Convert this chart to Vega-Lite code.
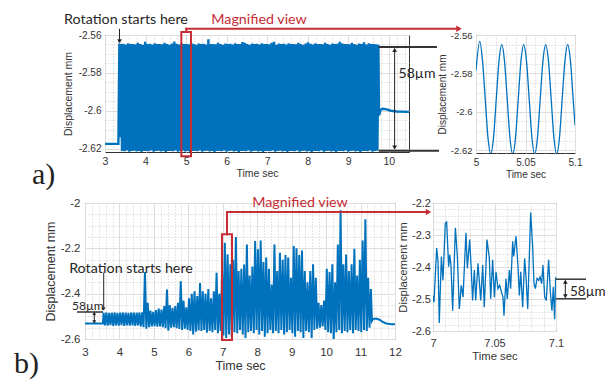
{
"$schema":"https://vega.github.io/schema/vega-lite/v6.json",
"padding":{"left":5,"top":5,"right":0,"bottom":0},
"background":"white",
"config":{
 "view":{"stroke":"#333333","strokeWidth":1},
 "axis":{"ticks":false,"domain":false,"grid":true,"gridWidth":1,"labelFont":"Liberation Sans","titleFont":"Liberation Sans","labelColor":"#333333","titleColor":"#333333","titleFontWeight":"normal","labelFlush":false,"labelOverlap":false}
},
"datasets":{
"a_main":[
{"t":3,"v":-2.6175},{"t":3.33,"v":-2.6175},{"t":3.355,"v":-2.5645},{"t":3.372,"v":-2.614},
{"t":3.39,"v":-2.5648},{"t":3.42,"v":-2.6212},{"t":3.45,"v":-2.5646},{"t":3.48,"v":-2.6214},{"t":3.51,"v":-2.565},{"t":3.54,"v":-2.621},{"t":3.57,"v":-2.5644},{"t":3.6,"v":-2.6217},{"t":3.63,"v":-2.5648},{"t":3.66,"v":-2.6213},{"t":3.69,"v":-2.5647},{"t":3.72,"v":-2.6211},{"t":3.75,"v":-2.5649},{"t":3.78,"v":-2.6215},{"t":3.81,"v":-2.5641},{"t":3.84,"v":-2.6212},{"t":3.87,"v":-2.5648},{"t":3.9,"v":-2.622},{"t":3.93,"v":-2.5651},{"t":3.96,"v":-2.6213},{"t":3.99,"v":-2.5636},{"t":4.02,"v":-2.6212},{"t":4.05,"v":-2.5648},{"t":4.08,"v":-2.6214},{"t":4.11,"v":-2.5646},{"t":4.14,"v":-2.621},{"t":4.17,"v":-2.565},{"t":4.2,"v":-2.6217},{"t":4.23,"v":-2.5644},{"t":4.26,"v":-2.6213},{"t":4.29,"v":-2.5648},{"t":4.32,"v":-2.6211},{"t":4.35,"v":-2.5647},{"t":4.38,"v":-2.6215},{"t":4.41,"v":-2.5649},{"t":4.44,"v":-2.6212},{"t":4.47,"v":-2.5641},{"t":4.5,"v":-2.622},{"t":4.53,"v":-2.5648},{"t":4.56,"v":-2.6213},{"t":4.59,"v":-2.5651},{"t":4.62,"v":-2.6212},{"t":4.65,"v":-2.5645},{"t":4.68,"v":-2.6214},{"t":4.71,"v":-2.5635},{"t":4.74,"v":-2.621},{"t":4.77,"v":-2.5646},{"t":4.8,"v":-2.6217},{"t":4.83,"v":-2.565},{"t":4.86,"v":-2.6213},{"t":4.89,"v":-2.5644},{"t":4.92,"v":-2.6211},{"t":4.95,"v":-2.5648},{"t":4.98,"v":-2.6215},{"t":5.01,"v":-2.5647},{"t":5.04,"v":-2.6212},{"t":5.07,"v":-2.5649},{"t":5.1,"v":-2.622},{"t":5.13,"v":-2.5641},{"t":5.16,"v":-2.6213},{"t":5.19,"v":-2.5648},{"t":5.22,"v":-2.6212},{"t":5.25,"v":-2.5651},{"t":5.28,"v":-2.6214},{"t":5.31,"v":-2.5645},{"t":5.34,"v":-2.621},{"t":5.37,"v":-2.5648},{"t":5.4,"v":-2.6217},{"t":5.43,"v":-2.5646},{"t":5.46,"v":-2.6213},{"t":5.49,"v":-2.565},{"t":5.52,"v":-2.6211},{"t":5.55,"v":-2.5623},{"t":5.58,"v":-2.6215},{"t":5.61,"v":-2.5648},{"t":5.64,"v":-2.6212},{"t":5.67,"v":-2.5647},{"t":5.7,"v":-2.622},{"t":5.73,"v":-2.5649},{"t":5.76,"v":-2.6213},{"t":5.79,"v":-2.5641},{"t":5.82,"v":-2.6212},{"t":5.85,"v":-2.5648},{"t":5.88,"v":-2.6214},{"t":5.91,"v":-2.5651},{"t":5.94,"v":-2.621},{"t":5.97,"v":-2.5645},{"t":6,"v":-2.6217},{"t":6.03,"v":-2.5648},{"t":6.06,"v":-2.6213},{"t":6.09,"v":-2.5646},{"t":6.12,"v":-2.6211},{"t":6.15,"v":-2.565},{"t":6.18,"v":-2.6215},{"t":6.21,"v":-2.5644},{"t":6.24,"v":-2.6212},{"t":6.27,"v":-2.5648},{"t":6.3,"v":-2.622},{"t":6.33,"v":-2.5647},{"t":6.36,"v":-2.6213},{"t":6.39,"v":-2.5637},{"t":6.42,"v":-2.6212},{"t":6.45,"v":-2.5641},{"t":6.48,"v":-2.6214},{"t":6.51,"v":-2.5648},{"t":6.54,"v":-2.621},{"t":6.57,"v":-2.5651},{"t":6.6,"v":-2.6217},{"t":6.63,"v":-2.5645},{"t":6.66,"v":-2.6213},{"t":6.69,"v":-2.5648},{"t":6.72,"v":-2.6211},{"t":6.75,"v":-2.5646},{"t":6.78,"v":-2.6215},{"t":6.81,"v":-2.565},{"t":6.84,"v":-2.6212},{"t":6.87,"v":-2.5644},{"t":6.9,"v":-2.622},{"t":6.93,"v":-2.5648},{"t":6.96,"v":-2.6213},{"t":6.99,"v":-2.5647},{"t":7.02,"v":-2.6212},{"t":7.05,"v":-2.5649},{"t":7.08,"v":-2.6214},{"t":7.11,"v":-2.5641},{"t":7.14,"v":-2.621},{"t":7.17,"v":-2.5636},{"t":7.2,"v":-2.6217},{"t":7.23,"v":-2.5651},{"t":7.26,"v":-2.6213},{"t":7.29,"v":-2.5645},{"t":7.32,"v":-2.6211},{"t":7.35,"v":-2.5648},{"t":7.38,"v":-2.6215},{"t":7.41,"v":-2.5646},{"t":7.44,"v":-2.6212},{"t":7.47,"v":-2.565},{"t":7.5,"v":-2.622},{"t":7.53,"v":-2.5644},{"t":7.56,"v":-2.6213},{"t":7.59,"v":-2.5648},{"t":7.62,"v":-2.6212},{"t":7.65,"v":-2.5647},{"t":7.68,"v":-2.6214},{"t":7.71,"v":-2.5649},{"t":7.74,"v":-2.621},{"t":7.77,"v":-2.5641},{"t":7.8,"v":-2.6217},{"t":7.83,"v":-2.5648},{"t":7.86,"v":-2.6213},{"t":7.89,"v":-2.5651},{"t":7.92,"v":-2.6211},{"t":7.95,"v":-2.5645},{"t":7.98,"v":-2.6215},{"t":8.01,"v":-2.5638},{"t":8.04,"v":-2.6212},{"t":8.07,"v":-2.5646},{"t":8.1,"v":-2.622},{"t":8.13,"v":-2.565},{"t":8.16,"v":-2.6213},{"t":8.19,"v":-2.5644},{"t":8.22,"v":-2.6212},{"t":8.25,"v":-2.5648},{"t":8.28,"v":-2.6214},{"t":8.31,"v":-2.5647},{"t":8.34,"v":-2.621},{"t":8.37,"v":-2.5649},{"t":8.4,"v":-2.6217},{"t":8.43,"v":-2.5641},{"t":8.46,"v":-2.6213},{"t":8.49,"v":-2.5648},{"t":8.52,"v":-2.6211},{"t":8.55,"v":-2.5651},{"t":8.58,"v":-2.6215},{"t":8.61,"v":-2.5645},{"t":8.64,"v":-2.6212},{"t":8.67,"v":-2.5648},{"t":8.7,"v":-2.622},{"t":8.73,"v":-2.5646},{"t":8.76,"v":-2.6213},{"t":8.79,"v":-2.5636},{"t":8.82,"v":-2.6212},{"t":8.85,"v":-2.5644},{"t":8.88,"v":-2.6214},{"t":8.91,"v":-2.5648},{"t":8.94,"v":-2.621},{"t":8.97,"v":-2.5647},{"t":9,"v":-2.6217},{"t":9.03,"v":-2.5649},{"t":9.06,"v":-2.6213},{"t":9.09,"v":-2.5641},{"t":9.12,"v":-2.6211},{"t":9.15,"v":-2.5648},{"t":9.18,"v":-2.6215},{"t":9.21,"v":-2.5651},{"t":9.24,"v":-2.6212},{"t":9.27,"v":-2.5645},{"t":9.3,"v":-2.622},{"t":9.33,"v":-2.5648},{"t":9.36,"v":-2.6213},{"t":9.39,"v":-2.5639},{"t":9.42,"v":-2.6212},{"t":9.45,"v":-2.565},{"t":9.48,"v":-2.6214},{"t":9.51,"v":-2.5644},{"t":9.54,"v":-2.621},{"t":9.57,"v":-2.5648},{"t":9.6,"v":-2.6217},{"t":9.63,"v":-2.5647},{"t":9.66,"v":-2.6213},{"t":9.69,"v":-2.5649},{"t":9.72,"v":-2.6211},
{"t":9.745,"v":-2.5652},{"t":9.76,"v":-2.6025},{"t":9.8,"v":-2.5995},{"t":9.85,"v":-2.599},{"t":9.95,"v":-2.5993},{"t":10.05,"v":-2.6},{"t":10.2,"v":-2.6004},{"t":10.5,"v":-2.6006}
],
"a_mag":[
{"t":5,"v":-2.5784},{"t":5.0038,"v":-2.5633},{"t":5.00658,"v":-2.5735},{"t":5.00935,"v":-2.5935},{"t":5.01213,"v":-2.6137},{"t":5.0149,"v":-2.622},{"t":5.01768,"v":-2.6137},{"t":5.02045,"v":-2.5935},{"t":5.02323,"v":-2.5735},{"t":5.026,"v":-2.565},{"t":5.02878,"v":-2.5735},{"t":5.03155,"v":-2.5935},{"t":5.03433,"v":-2.6137},{"t":5.0371,"v":-2.622},{"t":5.03988,"v":-2.6137},{"t":5.04265,"v":-2.5935},{"t":5.04543,"v":-2.5735},{"t":5.0482,"v":-2.565},{"t":5.05098,"v":-2.5735},{"t":5.05375,"v":-2.5935},{"t":5.05653,"v":-2.6137},{"t":5.0593,"v":-2.622},{"t":5.06208,"v":-2.6137},{"t":5.06485,"v":-2.5935},{"t":5.06763,"v":-2.5735},{"t":5.0704,"v":-2.565},{"t":5.07318,"v":-2.5735},{"t":5.07595,"v":-2.5935},{"t":5.07873,"v":-2.6137},{"t":5.0815,"v":-2.622},{"t":5.08428,"v":-2.6137},{"t":5.08705,"v":-2.5935},{"t":5.08983,"v":-2.5735},{"t":5.0926,"v":-2.565},{"t":5.09538,"v":-2.5735},{"t":5.09815,"v":-2.5935},{"t":5.1,"v":-2.607}
],
"b_main":[
{"t":3,"v":-2.532},{"t":3.52,"v":-2.532},{"t":3.54,"v":-2.484},{"t":3.58,"v":-2.54},{"t":3.62,"v":-2.483},{"t":3.66,"v":-2.541},{"t":3.7,"v":-2.485},{"t":3.74,"v":-2.539},{"t":3.78,"v":-2.484},{"t":3.82,"v":-2.542},{"t":3.86,"v":-2.483},{"t":3.9,"v":-2.54},{"t":3.94,"v":-2.485},{"t":3.98,"v":-2.541},{"t":4.02,"v":-2.484},{"t":4.06,"v":-2.539},{"t":4.1,"v":-2.483},{"t":4.14,"v":-2.542},{"t":4.18,"v":-2.484},{"t":4.22,"v":-2.54},{"t":4.26,"v":-2.485},{"t":4.3,"v":-2.541},{"t":4.34,"v":-2.483},{"t":4.38,"v":-2.54},{"t":4.42,"v":-2.484},{"t":4.46,"v":-2.542},{"t":4.5,"v":-2.484},{"t":4.54,"v":-2.54},{"t":4.58,"v":-2.483},{"t":4.62,"v":-2.544},{"t":4.66,"v":-2.482},{"t":4.7,"v":-2.548},{"t":4.74,"v":-2.304},{"t":4.78,"v":-2.555},{"t":4.82,"v":-2.44},{"t":4.86,"v":-2.548},{"t":4.9,"v":-2.475},{"t":4.94,"v":-2.545},{"t":4.98,"v":-2.48},{"t":5.02,"v":-2.543},{"t":5.06,"v":-2.472},{"t":5.1,"v":-2.546},{"t":5.14,"v":-2.466},{"t":5.18,"v":-2.545},{"t":5.22,"v":-2.47},{"t":5.26,"v":-2.548},{"t":5.3,"v":-2.455},{"t":5.34,"v":-2.552},{"t":5.38,"v":-2.382},{"t":5.42,"v":-2.563},{"t":5.46,"v":-2.45},{"t":5.5,"v":-2.55},{"t":5.54,"v":-2.462},{"t":5.58,"v":-2.548},{"t":5.62,"v":-2.455},{"t":5.66,"v":-2.552},{"t":5.7,"v":-2.44},{"t":5.74,"v":-2.556},{"t":5.78,"v":-2.345},{"t":5.82,"v":-2.56},{"t":5.86,"v":-2.43},{"t":5.9,"v":-2.555},{"t":5.94,"v":-2.46},{"t":5.98,"v":-2.56},{"t":6.02,"v":-2.42},{"t":6.06,"v":-2.565},{"t":6.1,"v":-2.4},{"t":6.14,"v":-2.58},{"t":6.18,"v":-2.389},{"t":6.22,"v":-2.568},{"t":6.26,"v":-2.41},{"t":6.3,"v":-2.562},{"t":6.34,"v":-2.353},{"t":6.38,"v":-2.565},{"t":6.42,"v":-2.39},{"t":6.46,"v":-2.56},{"t":6.5,"v":-2.4},{"t":6.54,"v":-2.572},{"t":6.58,"v":-2.38},{"t":6.62,"v":-2.565},{"t":6.66,"v":-2.42},{"t":6.7,"v":-2.57},{"t":6.74,"v":-2.39},{"t":6.78,"v":-2.56},{"t":6.82,"v":-2.308},{"t":6.86,"v":-2.575},{"t":6.9,"v":-2.4},{"t":6.94,"v":-2.565},{"t":6.98,"v":-2.3},{"t":7.02,"v":-2.585},{"t":7.06,"v":-2.175},{"t":7.1,"v":-2.595},{"t":7.14,"v":-2.226},{"t":7.18,"v":-2.58},{"t":7.22,"v":-2.27},{"t":7.26,"v":-2.59},{"t":7.3,"v":-2.25},{"t":7.34,"v":-2.57},{"t":7.38,"v":-2.15},{"t":7.42,"v":-2.575},{"t":7.46,"v":-2.3},{"t":7.5,"v":-2.56},{"t":7.54,"v":-2.29},{"t":7.58,"v":-2.58},{"t":7.62,"v":-2.271},{"t":7.66,"v":-2.596},{"t":7.7,"v":-2.183},{"t":7.74,"v":-2.57},{"t":7.78,"v":-2.32},{"t":7.82,"v":-2.565},{"t":7.86,"v":-2.28},{"t":7.9,"v":-2.575},{"t":7.94,"v":-2.168},{"t":7.98,"v":-2.56},{"t":8.02,"v":-2.204},{"t":8.06,"v":-2.58},{"t":8.1,"v":-2.165},{"t":8.14,"v":-2.565},{"t":8.18,"v":-2.26},{"t":8.22,"v":-2.59},{"t":8.26,"v":-2.24},{"t":8.3,"v":-2.575},{"t":8.34,"v":-2.29},{"t":8.38,"v":-2.56},{"t":8.42,"v":-2.36},{"t":8.46,"v":-2.575},{"t":8.5,"v":-2.183},{"t":8.54,"v":-2.565},{"t":8.58,"v":-2.3},{"t":8.62,"v":-2.575},{"t":8.66,"v":-2.22},{"t":8.7,"v":-2.56},{"t":8.74,"v":-2.25},{"t":8.78,"v":-2.58},{"t":8.82,"v":-2.23},{"t":8.86,"v":-2.57},{"t":8.9,"v":-2.24},{"t":8.94,"v":-2.56},{"t":8.98,"v":-2.33},{"t":9.02,"v":-2.575},{"t":9.06,"v":-2.19},{"t":9.1,"v":-2.59},{"t":9.14,"v":-2.2},{"t":9.18,"v":-2.565},{"t":9.22,"v":-2.23},{"t":9.26,"v":-2.57},{"t":9.3,"v":-2.21},{"t":9.34,"v":-2.596},{"t":9.38,"v":-2.3},{"t":9.42,"v":-2.565},{"t":9.46,"v":-2.35},{"t":9.5,"v":-2.57},{"t":9.54,"v":-2.3},{"t":9.58,"v":-2.596},{"t":9.62,"v":-2.27},{"t":9.66,"v":-2.56},{"t":9.7,"v":-2.33},{"t":9.74,"v":-2.555},{"t":9.78,"v":-2.44},{"t":9.82,"v":-2.55},{"t":9.86,"v":-2.45},{"t":9.9,"v":-2.545},{"t":9.94,"v":-2.43},{"t":9.98,"v":-2.56},{"t":10.02,"v":-2.29},{"t":10.06,"v":-2.57},{"t":10.1,"v":-2.305},{"t":10.14,"v":-2.575},{"t":10.18,"v":-2.27},{"t":10.22,"v":-2.61},{"t":10.26,"v":-2.35},{"t":10.3,"v":-2.57},{"t":10.34,"v":-2.183},{"t":10.38,"v":-2.56},{"t":10.42,"v":-2.032},{"t":10.46,"v":-2.575},{"t":10.5,"v":-2.27},{"t":10.54,"v":-2.565},{"t":10.58,"v":-2.227},{"t":10.62,"v":-2.57},{"t":10.66,"v":-2.3},{"t":10.7,"v":-2.56},{"t":10.74,"v":-2.27},{"t":10.78,"v":-2.575},{"t":10.82,"v":-2.202},{"t":10.86,"v":-2.56},{"t":10.9,"v":-2.32},{"t":10.94,"v":-2.565},{"t":10.98,"v":-2.25},{"t":11.02,"v":-2.57},{"t":11.06,"v":-2.165},{"t":11.1,"v":-2.56},{"t":11.14,"v":-2.072},{"t":11.18,"v":-2.565},{"t":11.22,"v":-2.33},{"t":11.26,"v":-2.55},{"t":11.3,"v":-2.38},{"t":11.33,"v":-2.52},{"t":11.36,"v":-2.512},{"t":11.45,"v":-2.51},{"t":11.55,"v":-2.515},{"t":11.65,"v":-2.525},{"t":11.75,"v":-2.532},{"t":11.9,"v":-2.535},{"t":12,"v":-2.535}
],
"b_mag":[
{"t":7,"v":-2.49},{"t":7.0008,"v":-2.51},{"t":7.003,"v":-2.3407},{"t":7.0041,"v":-2.3831},{"t":7.0051,"v":-2.575},{"t":7.0068,"v":-2.3672},{"t":7.0081,"v":-2.4413},{"t":7.01,"v":-2.2635},{"t":7.0111,"v":-2.2593},{"t":7.0127,"v":-2.3989},{"t":7.0136,"v":-2.3619},{"t":7.0146,"v":-2.3937},{"t":7.016,"v":-2.5365},{"t":7.0182,"v":-2.2772},{"t":7.0198,"v":-2.3672},{"t":7.0214,"v":-2.5312},{"t":7.023,"v":-2.4571},{"t":7.0244,"v":-2.4942},{"t":7.0268,"v":-2.2931},{"t":7.0279,"v":-2.4042},{"t":7.0298,"v":-2.3143},{"t":7.0312,"v":-2.4148},{"t":7.0322,"v":-2.5048},{"t":7.0336,"v":-2.4095},{"t":7.0347,"v":-2.5048},{"t":7.0366,"v":-2.3884},{"t":7.0388,"v":-2.5048},{"t":7.0404,"v":-2.3937},{"t":7.0417,"v":-2.5259},{"t":7.0439,"v":-2.3143},{"t":7.0458,"v":-2.3725},{"t":7.0469,"v":-2.4995},{"t":7.0485,"v":-2.3778},{"t":7.0499,"v":-2.4942},{"t":7.0512,"v":-2.4148},{"t":7.0528,"v":-2.4677},{"t":7.0542,"v":-2.4571},{"t":7.0553,"v":-2.473},{"t":7.0569,"v":-2.4942},{"t":7.0577,"v":-2.5524},{"t":7.0593,"v":-2.436},{"t":7.0604,"v":-2.4995},{"t":7.0621,"v":-2.4095},{"t":7.0631,"v":-2.4677},{"t":7.0648,"v":-2.3196},{"t":7.0656,"v":-2.3672},{"t":7.0675,"v":-2.3037},{"t":7.0691,"v":-2.3989},{"t":7.0702,"v":-2.4889},{"t":7.0713,"v":-2.4148},{"t":7.0729,"v":-2.5259},{"t":7.0745,"v":-2.3725},{"t":7.0756,"v":-2.4307},{"t":7.077,"v":-2.5312},{"t":7.0794,"v":-2.2296},{"t":7.081,"v":-2.3354},{"t":7.0821,"v":-2.4519},{"t":7.0832,"v":-2.4677},{"t":7.0846,"v":-2.436},{"t":7.0859,"v":-2.4413},{"t":7.087,"v":-2.4307},{"t":7.0883,"v":-2.4519},{"t":7.0894,"v":-2.3937},{"t":7.0908,"v":-2.4942},{"t":7.0921,"v":-2.5048},{"t":7.094,"v":-2.3778},{"t":7.0954,"v":-2.4783},{"t":7.0967,"v":-2.5365},{"t":7.0978,"v":-2.4624},{"t":7.0989,"v":-2.563},{"t":7.0997,"v":-2.436},{"t":7.1,"v":-2.4307}
]
},
"vconcat":[
{"hconcat":[
 {"width":20,"height":117,"data":{"values":[]},"mark":"point","encoding":{},"view":{"stroke":null}},
 {"width":304,"height":117,"resolve":{"axis":{"x":"independent","y":"independent"}},"layer":[
  {"data":{"name":"a_main"},"mark":{"type":"line","color":"#0072BD","strokeWidth":2.4,"clip":true},
   "encoding":{
    "x":{"field":"t","type":"quantitative","scale":{"domain":[3,10.5],"nice":false,"zero":false},
     "axis":{"title":"Time sec","grid":true,"values":[3,3.2,3.4,3.6,3.8,4,4.2,4.4,4.6,4.8,5,5.2,5.4,5.6,5.8,6,6.2,6.4,6.6,6.8,7,7.2,7.4,7.6,7.8,8,8.2,8.4,8.6,8.8,9,9.2,9.4,9.6,9.8,10,10.2,10.4],
      "labelExpr":"datum.value % 1 == 0 ? '' + datum.value : ''",
      "gridDash":{"condition":{"test":"datum.value % 1 == 0","value":[]},"value":[1,2]},
      "gridColor":{"condition":{"test":"datum.value % 1 == 0","value":"#dedede"},"value":"#cccccc"},
      "labelFontSize":10.5,"titleFontSize":10.5,"labelPadding":4,"titlePadding":2}},
    "y":{"field":"v","type":"quantitative","scale":{"domain":[-2.6218,-2.56],"nice":false,"zero":false},
     "axis":{"title":"Displacement mm","grid":true,"values":[-2.62,-2.615,-2.61,-2.605,-2.6,-2.595,-2.59,-2.585,-2.58,-2.575,-2.57,-2.565,-2.56],
      "labelExpr":"abs(datum.value*50 - round(datum.value*50)) < 0.000001 ? '' + datum.value : ''",
      "gridDash":{"condition":{"test":"abs(datum.value*50 - round(datum.value*50)) < 0.000001","value":[]},"value":[1,2]},
      "gridColor":{"condition":{"test":"abs(datum.value*50 - round(datum.value*50)) < 0.000001","value":"#dedede"},"value":"#cccccc"},
      "labelFontSize":10,"titleFontSize":10.5,"labelPadding":4,"titlePadding":5}}}},
  {"data":{"values":[{"t":0.5822,"v":-2.54521},{"t":0.5822,"v":-2.64451}]},"mark":{"type":"point","filled":true,"strokeWidth":0,"opacity":0,"size":1,"clip":false},
   "encoding":{"x":{"field":"t","type":"quantitative","axis":null},"y":{"field":"v","type":"quantitative","axis":null}}},
  {"data":{"values":[{"t":4.883,"t2":5.122,"v":-2.5584,"v2":-2.624}]},"mark":{"type":"rect","filled":false,"color":"#C62D35","stroke":"#C62D35","strokeWidth":2,"clip":false},
   "encoding":{"x":{"field":"t","type":"quantitative","axis":null},"x2":{"field":"t2"},"y":{"field":"v","type":"quantitative","axis":null},"y2":{"field":"v2"}}},
  {"data":{"values":[{"t":5.006,"v":-2.5584,"t2":5.006,"v2":-2.5567},{"t":5.006,"v":-2.5567,"t2":11.7,"v2":-2.5567}]},"mark":{"type":"rule","color":"#C62D35","strokeWidth":2,"strokeCap":"square","clip":false},
   "encoding":{"x":{"field":"t","type":"quantitative","axis":null},"x2":{"field":"t2"},"y":{"field":"v","type":"quantitative","axis":null},"y2":{"field":"v2"}}},
  {"data":{"values":[{"t":11.734,"v":-2.5567,"dir":"right"}]},"mark":{"type":"point","filled":true,"color":"#C62D35","size":40,"opacity":1,"clip":false},
   "encoding":{"x":{"field":"t","type":"quantitative","axis":null},"y":{"field":"v","type":"quantitative","axis":null},"shape":{"field":"dir","type":"nominal","scale":{"domain":["down","up","right"],"range":["triangle-down","triangle-up","triangle-right"]},"legend":null}}},
  {"data":{"values":[{"t":3.358,"v":-2.5567,"t2":3.358,"v2":-2.5625},{"t":10.145,"v":-2.5672,"t2":10.145,"v2":-2.6202}]},"mark":{"type":"rule","color":"#222222","strokeWidth":1,"clip":false},
   "encoding":{"x":{"field":"t","type":"quantitative","axis":null},"x2":{"field":"t2"},"y":{"field":"v","type":"quantitative","axis":null},"y2":{"field":"v2"}}},
  {"data":{"values":[{"t":9.753,"v":-2.5663,"t2":11.19,"v2":-2.5663},{"t":9.753,"v":-2.6211,"t2":11.24,"v2":-2.6211}]},"mark":{"type":"rule","color":"#333333","strokeWidth":2,"clip":false},
   "encoding":{"x":{"field":"t","type":"quantitative","axis":null},"x2":{"field":"t2"},"y":{"field":"v","type":"quantitative","axis":null},"y2":{"field":"v2"}}},
  {"data":{"values":[{"t":3.358,"v":-2.5633,"dir":"down"},{"t":10.145,"v":-2.5679,"dir":"up"},{"t":10.145,"v":-2.6194,"dir":"down"}]},"mark":{"type":"point","filled":true,"color":"#222222","size":22,"opacity":1,"clip":false},
   "encoding":{"x":{"field":"t","type":"quantitative","axis":null},"y":{"field":"v","type":"quantitative","axis":null},"shape":{"field":"dir","type":"nominal","scale":{"domain":["down","up","right"],"range":["triangle-down","triangle-up","triangle-right"]},"legend":null}}},
  {"data":{"values":[{"t":3.518,"v":-2.55233,"label":"Rotation starts here"}]},"mark":{"type":"text","font":"Lato","fontSize":14.3,"color":"#262626","align":"center","baseline":"middle","clip":false},
   "encoding":{"x":{"field":"t","type":"quantitative","axis":null},"y":{"field":"v","type":"quantitative","axis":null},"text":{"field":"label"}}},
  {"data":{"values":[{"t":6.8,"v":-2.55222,"label":"Magnified view"}]},"mark":{"type":"text","font":"Lato","fontSize":14.3,"color":"#C62D35","align":"center","baseline":"middle","clip":false},
   "encoding":{"x":{"field":"t","type":"quantitative","axis":null},"y":{"field":"v","type":"quantitative","axis":null},"text":{"field":"label"}}},
  {"data":{"values":[{"t":10.244,"v":-2.5806,"label":"58µm"}]},"mark":{"type":"text","font":"Lato","fontSize":14,"color":"#262626","align":"left","baseline":"middle","clip":false},
   "encoding":{"x":{"field":"t","type":"quantitative","axis":null},"y":{"field":"v","type":"quantitative","axis":null},"text":{"field":"label"}}},
  {"data":{"values":[{"t":1.199,"v":-2.6341,"label":"a)"}]},"mark":{"type":"text","font":"Liberation Serif","fontSize":30,"color":"#222222","align":"left","baseline":"middle","clip":false},
   "encoding":{"x":{"field":"t","type":"quantitative","axis":null},"y":{"field":"v","type":"quantitative","axis":null},"text":{"field":"label"}}}
 ]},
 {"width":67,"height":117,"data":{"values":[]},"mark":"point","encoding":{},"view":{"stroke":null}},
 {"width":99,"height":118,"layer":[
  {"data":{"name":"a_mag"},"mark":{"type":"line","color":"#0072BD","strokeWidth":1.3,"interpolate":"monotone","clip":true},
   "encoding":{
    "x":{"field":"t","type":"quantitative","scale":{"domain":[5,5.1],"nice":false,"zero":false},
     "axis":{"title":"Time sec","values":[5,5.01,5.02,5.03,5.04,5.05,5.06,5.07,5.08,5.09,5.1],
      "labelExpr":"abs(datum.value*20 - round(datum.value*20)) < 0.000001 ? '' + datum.value : ''",
      "gridDash":{"condition":{"test":"abs(datum.value*20 - round(datum.value*20)) < 0.000001","value":[]},"value":[1,2]},
      "gridColor":{"condition":{"test":"abs(datum.value*20 - round(datum.value*20)) < 0.000001","value":"#dedede"},"value":"#cccccc"},
      "labelFontSize":10,"titleFontSize":10,"labelPadding":4.5,"titlePadding":2}},
    "y":{"field":"v","type":"quantitative","scale":{"domain":[-2.6215,-2.56],"nice":false,"zero":false},
     "axis":{"title":"Displacement mm","values":[-2.62,-2.615,-2.61,-2.605,-2.6,-2.595,-2.59,-2.585,-2.58,-2.575,-2.57,-2.565,-2.56],
      "labelExpr":"abs(datum.value*50 - round(datum.value*50)) < 0.000001 ? '' + datum.value : ''",
      "gridDash":{"condition":{"test":"abs(datum.value*50 - round(datum.value*50)) < 0.000001","value":[]},"value":[1,2]},
      "gridColor":{"condition":{"test":"abs(datum.value*50 - round(datum.value*50)) < 0.000001","value":"#dedede"},"value":"#cccccc"},
      "labelFontSize":9.5,"titleFontSize":10,"labelPadding":4,"titlePadding":3}}}}
 ]}
],"spacing":0,"bounds":"flush"},
{"hconcat":[
 {"width":310,"height":136,"resolve":{"axis":{"x":"independent","y":"independent"}},"layer":[
  {"data":{"name":"b_main"},"mark":{"type":"line","color":"#0072BD","strokeWidth":2,"clip":true},
   "encoding":{
    "x":{"field":"t","type":"quantitative","scale":{"domain":[3,12],"nice":false,"zero":false},
     "axis":{"title":"Time sec","grid":true,"values":[3,3.2,3.4,3.6,3.8,4,4.2,4.4,4.6,4.8,5,5.2,5.4,5.6,5.8,6,6.2,6.4,6.6,6.8,7,7.2,7.4,7.6,7.8,8,8.2,8.4,8.6,8.8,9,9.2,9.4,9.6,9.8,10,10.2,10.4,10.6,10.8,11,11.2,11.4,11.6,11.8,12],
      "labelExpr":"datum.value % 1 == 0 ? '' + datum.value : ''",
      "gridDash":{"condition":{"test":"datum.value % 1 == 0","value":[]},"value":[1,2]},
      "gridColor":{"condition":{"test":"datum.value % 1 == 0","value":"#dedede"},"value":"#cccccc"},
      "labelFontSize":11.5,"titleFontSize":12.5,"labelPadding":7,"titlePadding":2}},
    "y":{"field":"v","type":"quantitative","scale":{"domain":[-2.6,-2],"nice":false,"zero":false},
     "axis":{"title":"Displacement mm","grid":true,"values":[-2.6,-2.55,-2.5,-2.45,-2.4,-2.35,-2.3,-2.25,-2.2,-2.15,-2.1,-2.05,-2],
      "labelExpr":"abs(datum.value*5 - round(datum.value*5)) < 0.000001 ? '' + datum.value : ''",
      "gridDash":{"condition":{"test":"abs(datum.value*5 - round(datum.value*5)) < 0.000001","value":[]},"value":[1,2]},
      "gridColor":{"condition":{"test":"abs(datum.value*5 - round(datum.value*5)) < 0.000001","value":"#dedede"},"value":"#cccccc"},
      "labelFontSize":11.5,"titleFontSize":12.5,"labelPadding":5,"titlePadding":3}}}},
  {"data":{"values":[{"t":0.7355,"v":-1.9603}]},"mark":{"type":"point","filled":true,"strokeWidth":0,"opacity":0,"size":1,"clip":false},
   "encoding":{"x":{"field":"t","type":"quantitative","axis":null},"y":{"field":"v","type":"quantitative","axis":null}}},
  {"data":{"values":[{"t":6.977,"t2":7.268,"v":-2.1381,"v2":-2.6044}]},"mark":{"type":"rect","filled":false,"color":"#C62D35","stroke":"#C62D35","strokeWidth":2,"clip":false},
   "encoding":{"x":{"field":"t","type":"quantitative","axis":null},"x2":{"field":"t2"},"y":{"field":"v","type":"quantitative","axis":null},"y2":{"field":"v2"}}},
  {"data":{"values":[{"t":7.1226,"v":-2.1381,"t2":7.1226,"v2":-2.0397},{"t":7.1226,"v":-2.0397,"t2":12.93,"v2":-2.0397}]},"mark":{"type":"rule","color":"#C62D35","strokeWidth":2,"strokeCap":"square","clip":false},
   "encoding":{"x":{"field":"t","type":"quantitative","axis":null},"x2":{"field":"t2"},"y":{"field":"v","type":"quantitative","axis":null},"y2":{"field":"v2"}}},
  {"data":{"values":[{"t":12.975,"v":-2.0397,"dir":"right"}]},"mark":{"type":"point","filled":true,"color":"#C62D35","size":40,"opacity":1,"clip":false},
   "encoding":{"x":{"field":"t","type":"quantitative","axis":null},"y":{"field":"v","type":"quantitative","axis":null},"shape":{"field":"dir","type":"nominal","scale":{"domain":["down","up","right"],"range":["triangle-down","triangle-up","triangle-right"]},"legend":null}}},
  {"data":{"values":[{"t":3.543,"v":-2.3075,"t2":3.543,"v2":-2.46},{"t":3.27,"v":-2.4845,"t2":3.27,"v2":-2.528}]},"mark":{"type":"rule","color":"#222222","strokeWidth":1,"clip":false},
   "encoding":{"x":{"field":"t","type":"quantitative","axis":null},"x2":{"field":"t2"},"y":{"field":"v","type":"quantitative","axis":null},"y2":{"field":"v2"}}},
  {"data":{"values":[{"t":2.768,"v":-2.4809,"t2":3.523,"v2":-2.4809}]},"mark":{"type":"rule","color":"#333333","strokeWidth":1.5,"clip":false},
   "encoding":{"x":{"field":"t","type":"quantitative","axis":null},"x2":{"field":"t2"},"y":{"field":"v","type":"quantitative","axis":null},"y2":{"field":"v2"}}},
  {"data":{"values":[{"t":3.543,"v":-2.4676,"dir":"down"},{"t":3.27,"v":-2.487,"dir":"up"},{"t":3.27,"v":-2.524,"dir":"down"}]},"mark":{"type":"point","filled":true,"color":"#222222","size":14,"opacity":1,"clip":false},
   "encoding":{"x":{"field":"t","type":"quantitative","axis":null},"y":{"field":"v","type":"quantitative","axis":null},"shape":{"field":"dir","type":"nominal","scale":{"domain":["down","up","right"],"range":["triangle-down","triangle-up","triangle-right"]},"legend":null}}},
  {"data":{"values":[{"t":4.3355,"v":-2.2912,"label":"Rotation starts here"}]},"mark":{"type":"text","font":"Lato","fontSize":14.3,"color":"#262626","align":"center","baseline":"middle","clip":false},
   "encoding":{"x":{"field":"t","type":"quantitative","axis":null},"y":{"field":"v","type":"quantitative","axis":null},"text":{"field":"label"}}},
  {"data":{"values":[{"t":9.242,"v":-1.9987,"label":"Magnified view"}]},"mark":{"type":"text","font":"Lato","fontSize":14.3,"color":"#C62D35","align":"center","baseline":"middle","clip":false},
   "encoding":{"x":{"field":"t","type":"quantitative","axis":null},"y":{"field":"v","type":"quantitative","axis":null},"text":{"field":"label"}}},
  {"data":{"values":[{"t":3.0813,"v":-2.4544,"label":"58µm"}]},"mark":{"type":"text","font":"Lato","fontSize":12,"color":"#262626","align":"center","baseline":"middle","clip":false},
   "encoding":{"x":{"field":"t","type":"quantitative","axis":null},"y":{"field":"v","type":"quantitative","axis":null},"text":{"field":"label"}}},
  {"data":{"values":[{"t":0.9387,"v":-2.7103,"label":"b)"}]},"mark":{"type":"text","font":"Liberation Serif","fontSize":30,"color":"#222222","align":"left","baseline":"middle","clip":false},
   "encoding":{"x":{"field":"t","type":"quantitative","axis":null},"y":{"field":"v","type":"quantitative","axis":null},"text":{"field":"label"}}}
 ]},
 {"width":123,"height":128,"resolve":{"axis":{"x":"independent","y":"independent"}},"layer":[
  {"data":{"name":"b_mag"},"mark":{"type":"line","color":"#0072BD","strokeWidth":1.3,"clip":true},
   "encoding":{
    "x":{"field":"t","type":"quantitative","scale":{"domain":[7,7.1],"nice":false,"zero":false},
     "axis":{"title":"Time sec","grid":true,"values":[7,7.01,7.02,7.03,7.04,7.05,7.06,7.07,7.08,7.09,7.1],
      "labelExpr":"abs(datum.value*20 - round(datum.value*20)) < 0.000001 ? '' + datum.value : ''",
      "gridDash":{"condition":{"test":"abs(datum.value*20 - round(datum.value*20)) < 0.000001","value":[]},"value":[1,2]},
      "gridColor":{"condition":{"test":"abs(datum.value*20 - round(datum.value*20)) < 0.000001","value":"#dedede"},"value":"#cccccc"},
      "labelFontSize":11,"titleFontSize":11.3,"labelPadding":6,"titlePadding":2}},
    "y":{"field":"v","type":"quantitative","scale":{"domain":[-2.6,-2.2],"nice":false,"zero":false},
     "axis":{"title":"Displacement mm","grid":true,"values":[-2.6,-2.58,-2.56,-2.54,-2.52,-2.5,-2.48,-2.46,-2.44,-2.42,-2.4,-2.38,-2.36,-2.34,-2.32,-2.3,-2.28,-2.26,-2.24,-2.22,-2.2],
      "labelExpr":"abs(datum.value*10 - round(datum.value*10)) < 0.000001 ? '' + datum.value : ''",
      "gridDash":{"condition":{"test":"abs(datum.value*10 - round(datum.value*10)) < 0.000001","value":[]},"value":[1,2]},
      "gridColor":{"condition":{"test":"abs(datum.value*10 - round(datum.value*10)) < 0.000001","value":"#dedede"},"value":"#cccccc"},
      "labelFontSize":11,"titleFontSize":11.3,"labelPadding":2.5,"titlePadding":3}}}},
  {"data":{"values":[{"t":7.1,"v":-2.4381,"t2":7.1244,"v2":-2.4381},{"t":7.1,"v":-2.4994,"t2":7.1244,"v2":-2.4994}]},"mark":{"type":"rule","color":"#333333","strokeWidth":1.5,"clip":false},
   "encoding":{"x":{"field":"t","type":"quantitative","axis":null},"x2":{"field":"t2"},"y":{"field":"v","type":"quantitative","axis":null},"y2":{"field":"v2"}}},
  {"data":{"values":[{"t":7.1076,"v":-2.443,"t2":7.1076,"v2":-2.494}]},"mark":{"type":"rule","color":"#222222","strokeWidth":1,"clip":false},
   "encoding":{"x":{"field":"t","type":"quantitative","axis":null},"x2":{"field":"t2"},"y":{"field":"v","type":"quantitative","axis":null},"y2":{"field":"v2"}}},
  {"data":{"values":[{"t":7.1076,"v":-2.446,"dir":"up"},{"t":7.1076,"v":-2.4915,"dir":"down"}]},"mark":{"type":"point","filled":true,"color":"#222222","size":22,"opacity":1,"clip":false},
   "encoding":{"x":{"field":"t","type":"quantitative","axis":null},"y":{"field":"v","type":"quantitative","axis":null},"shape":{"field":"dir","type":"nominal","scale":{"domain":["down","up","right"],"range":["triangle-down","triangle-up","triangle-right"]},"legend":null}}},
  {"data":{"values":[{"t":7.1114,"v":-2.4784,"label":"58µm"}]},"mark":{"type":"text","font":"Lato","fontSize":13.5,"color":"#262626","align":"left","baseline":"middle","clip":false},
   "encoding":{"x":{"field":"t","type":"quantitative","axis":null},"y":{"field":"v","type":"quantitative","axis":null},"text":{"field":"label"}}}
 ]}
],"spacing":38,"bounds":"flush"}
],
"spacing":-3,
"bounds":"full"
}
